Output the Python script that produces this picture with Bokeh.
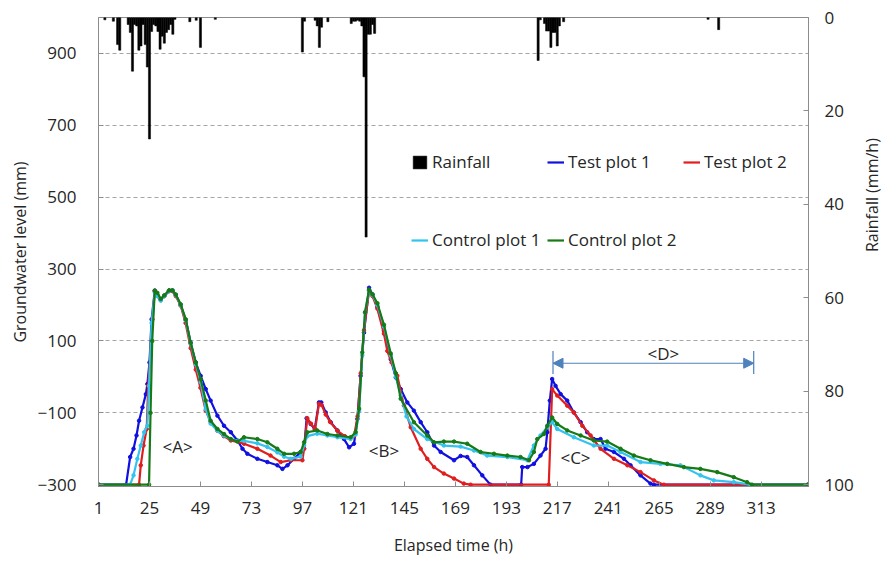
import math
from bokeh.plotting import figure
from bokeh.models import (Range1d, LinearAxis, FixedTicker, Legend, LegendItem,
                          Label, Arrow, NormalHead)
from bokeh.embed import file_html
from bokeh.resources import INLINE

# ---------------- data ----------------
x_ticks = [1, 25, 49, 73, 97, 121, 145, 169, 193, 217, 241, 265, 289, 313]
gw_ticks = [-300, -100, 100, 300, 500, 700, 900]
rain_ticks = [0, 20, 40, 60, 80, 100]

rain_h = [4, 8, 10, 11, 15, 16, 17, 18, 19, 20, 21, 22, 23, 24, 25, 26, 27, 28,
          29, 30, 31, 32, 33, 34, 35, 36, 37, 44, 47, 49, 56,
          97, 98, 103, 104, 105, 106, 109, 120, 121, 122, 123, 124, 125, 126, 127,
          128, 129, 130, 131,
          208, 209, 211, 212, 213, 214, 215, 216, 217, 218, 220, 288, 293]
rain_v = [0.5, 0.8, 5.8, 7.0, 1.5, 3.2, 11.5, 1.5, 1.8, 7.0, 6.1, 1.5, 5.8, 10.6, 26.0, 3.0, 1.5, 1.8,
          3.0, 6.8, 4.0, 5.5, 3.2, 2.6, 1.5, 3.6, 0.4, 0.9, 0.6, 6.4, 0.4,
          7.4, 0.8, 0.6, 1.8, 6.4, 2.1, 0.9, 1.3, 0.8, 0.8, 0.6, 0.8, 1.8, 12.7, 47.0,
          3.6, 3.6, 1.5, 3.4,
          9.2, 0.5, 1.3, 2.9, 2.9, 6.4, 3.2, 3.2, 6.1, 1.8, 0.9, 0.4, 2.6]

test1_h = [1, 14, 15.9, 17.5, 18.9, 20.1, 21.7, 23.3, 24, 25, 26, 27.5, 28.7, 30.3, 31.9, 34.3,
           35.8, 37.4, 39.7, 42.1, 44.4, 46.8, 49.1, 51.5, 53.8, 57, 60.1, 63.3, 66.4, 68.8,
           71.1, 75.8, 80.5, 85.2, 87.6, 90, 93.1, 96.2, 97.8, 99, 100.9, 102.8, 104.8, 105.9,
           108, 110.3, 113.5, 116.6, 119, 121.3, 122.9, 124.4, 126, 128.4, 130, 132.3, 135.4,
           138.6, 141, 143.3, 146.4, 149.5, 152.7, 155.8, 159, 162.1, 168.4, 171.5, 174.6,
           177.8, 181.7, 185.6, 200, 200.5, 203, 206, 209.1, 211.5, 212.3, 213.5, 214.6, 216.2,
           218.6, 221.7, 224.8, 228, 231.1, 234.2, 237.4, 239.7, 243.7, 248.4, 251.5, 256.2,
           260.9, 262.5, 335]
test1_v = [-300, -300, -223, -200, -163, -122, -85, -48, -20, 40, 160, 240, 228, 215, 225, 240,
           240, 228, 200, 158, 95, 40, 3, -34, -66, -108, -136, -154, -177, -200,
           -214, -228, -237, -246, -256, -246, -228, -209, -200, -115, -131, -145, -71, -71,
           -99, -126, -149, -173, -196, -186, -117, 3, 123, 248, 229, 195, 128,
           49, -2, -34, -71, -94, -126, -154, -191, -209, -232, -220, -223,
           -246, -274, -300, -300, -251, -251, -242, -219, -200, -154, -66, -6, -25,
           -48, -66, -99, -126, -154, -173, -173, -200, -209, -228, -246, -274,
           -297, -300, -300]

test2_h = [1, 20.1, 20.9, 22.2, 23.7, 24.4, 26.4, 27.5, 28.7, 30.3, 32, 34, 36, 37.4, 39.7, 42,
           44.4, 46.8, 49, 51.5, 53.8, 57, 60, 63.3, 69.5, 75.8, 82, 86.8, 91.5, 97, 97.8,
           99.3, 101, 103, 104.8, 106, 108, 110, 113.5, 117, 119.5, 121.3, 123, 124.5, 126,
           128.4, 130, 132.3, 135.4, 137, 139, 141.7, 144.8, 148, 152.7, 155.8, 159, 163.6,
           168.4, 173, 176.2, 213, 214.6, 217, 221.7, 224.8, 228.8, 232.7, 237.4, 243.7, 250,
           256.2, 262.5, 267.2, 335]
test2_v = [-300, -300, -246, -191, -145, -25, 160, 239, 225, 215, 225, 238, 238, 225, 198, 150,
           80, 20, -30, -94, -125, -150, -165, -177, -186, -200, -219, -237, -232, -232, -200,
           -115, -130, -145, -75, -78, -105, -125, -150, -165, -170, -165, -110, 10, 130,
           240, 225, 190, 120, 72, 40, 3, -80, -140, -200, -228, -251, -269,
           -283, -297, -300, -300, -34, -52, -80, -99, -136, -163, -200, -228, -246,
           -265, -288, -300, -300]

ctrl1_h = [1, 15.9, 17.5, 19.3, 20.9, 22.5, 24, 24.8, 26, 27.5, 28.7, 30.3, 32, 34, 36, 37.4,
           39.7, 42, 44.4, 46.8, 49.1, 51.5, 53.8, 57, 60, 63.3, 66.4, 69.5, 75.8, 80.5, 85.2,
           88.4, 91.5, 96.2, 97.8, 99.3, 104, 108.8, 113.5, 119.7, 122.1, 123.7, 125.2, 126.5,
           128.4, 130, 132.3, 135.4, 138.6, 141, 143.3, 146, 149.5, 155.8, 163.6, 171.5, 177.8,
           184, 193.5, 202.9, 206, 209.1, 212.3, 214.6, 217, 224.8, 234.2, 240.5, 246.8, 256.2,
           265.6, 275, 284.4, 290.7, 300.1, 308, 335]
ctrl1_v = [-300, -300, -274, -228, -191, -154, -136, -25, 150, 235, 225, 212, 225, 238, 240, 228,
           200, 158, 92, 35, -15, -90, -130, -150, -163, -173, -178, -178, -185, -195, -210,
           -222, -228, -222, -190, -165, -158, -163, -168, -173, -160, -95, 60, 180,
           240, 228, 200, 140, 60, 0, -52, -110, -145, -173, -191, -194, -205,
           -219, -223, -232, -191, -163, -140, -126, -145, -168, -191, -191, -209, -237,
           -242, -246, -274, -288, -293, -300, -300]

ctrl2_h = [1, 24.8, 25.5, 26.3, 27.5, 28.7, 30.3, 32, 34.3, 35.8, 37.4, 39.7, 42.1, 44.4, 46.8,
           49.1, 51.5, 53.8, 57, 60.1, 63.3, 66.4, 69.5, 75.8, 80.5, 85.2, 88.4, 93.1, 96.2,
           97.8, 99.3, 104, 108.8, 113.5, 119.7, 122.1, 123.7, 125.2, 126.5, 128.4, 130, 132.3,
           135.4, 138.6, 141, 143.3, 149.5, 155.8, 159, 163.6, 168.4, 174.6, 180.9, 187.2,
           193.5, 199.7, 203.7, 206, 207.6, 210.7, 212.3, 214.6, 217, 221.7, 228, 234.2, 240.5,
           246.8, 253.1, 260.9, 268.8, 276.6, 284.4, 292.3, 300.1, 306.4, 308.7, 335]
ctrl2_v = [-300, -300, -100, 100, 240, 234, 217, 227, 241, 241, 229, 202, 160, 95, 40,
           -6, -66, -122, -145, -159, -173, -180, -168, -173, -182, -200, -214, -214, -209,
           -182, -154, -149, -159, -163, -168, -154, -89, 68, 180, 243, 230, 205,
           145, 65, 10, -61, -126, -163, -182, -180, -180, -186, -209, -214,
           -219, -223, -232, -209, -173, -159, -136, -113, -131, -149, -163, -177, -180,
           -200, -219, -232, -242, -251, -256, -265, -279, -293, -300, -300]

# ---------------- figure ----------------
FONT = "Open Sans"
TXT = "#262626"
GRAY = "#8c8c8c"

GW_START, GW_END = -305, 1000          # tiny pad so the -300 lines are fully visible
RAIN_AT_START = (1000 - GW_START) / 13.0  # rainfall axis aligned: 0 <-> 1000, 100 <-> -300

p = figure(width=896, height=560, output_backend="svg", toolbar_location=None,
           x_range=Range1d(1, 335.3), y_range=Range1d(GW_START, GW_END),
           min_border_left=98, min_border_right=88, min_border_top=17, min_border_bottom=74)
p.extra_y_ranges = {"rain": Range1d(RAIN_AT_START, 0)}
p.outline_line_color = GRAY
p.xgrid.visible = False
p.ygrid.ticker = FixedTicker(ticks=[t for t in gw_ticks if t > -300])
p.ygrid.grid_line_color = "#a6a6a6"
p.ygrid.grid_line_dash = "4 3"

p.xaxis.ticker = FixedTicker(ticks=x_ticks)
p.yaxis.ticker = FixedTicker(ticks=gw_ticks)
p.xaxis.axis_label = "Elapsed time (h)"
p.yaxis.axis_label = "Groundwater level (mm)"

raxis = LinearAxis(y_range_name="rain", ticker=FixedTicker(ticks=rain_ticks),
                   axis_label="Rainfall (mm/h)")
p.add_layout(raxis, "right")

for ax in [p.xaxis[0], p.yaxis[0], raxis]:
    ax.axis_line_color = GRAY
    ax.major_tick_line_color = GRAY
    ax.major_tick_in = 5
    ax.major_tick_out = 0
    ax.minor_tick_line_color = None
    ax.major_label_text_font = FONT
    ax.major_label_text_font_size = "17px"
    ax.major_label_text_color = TXT
    ax.axis_label_text_font = FONT
    ax.axis_label_text_font_size = "16px"
    ax.axis_label_text_font_style = "normal"
    ax.axis_label_text_color = TXT

p.yaxis.major_label_standoff = 22
p.yaxis.axis_label_standoff = 4
raxis.major_label_standoff = 16
raxis.axis_label_standoff = 15
p.xaxis.major_label_standoff = 15
p.xaxis.axis_label_standoff = 17
try:
    raxis.axis_label_orientation = math.pi / 2
except Exception:
    pass

# rainfall bars hanging from the top
rain_r = p.vbar(x=rain_h, width=1, top=0, bottom=rain_v, y_range_name="rain",
                fill_color="black", line_color="black", line_width=0.5)

series = [
    ("Test plot 1", test1_h, test1_v, "#1010e0"),
    ("Test plot 2", test2_h, test2_v, "#e01e1e"),
    ("Control plot 1", ctrl1_h, ctrl1_v, "#33c3ee"),
    ("Control plot 2", ctrl2_h, ctrl2_v, "#167a16"),
]
rend = {}
for name, hx, vy, col in series:
    l = p.line(hx, vy, line_color=col, line_width=2.2)
    s = p.scatter(hx, vy, size=3.5, color=col)
    rend[name] = l

def make_legend(items, loc):
    lg = Legend(items=items, orientation="horizontal", location=loc,
                label_width=115, spacing=0, glyph_width=17, glyph_height=16,
                label_standoff=4, padding=0, margin=0,
                border_line_alpha=0, background_fill_alpha=0,
                label_text_font=FONT, label_text_font_size="17px",
                label_text_color=TXT)
    p.add_layout(lg)
    return lg

make_legend([LegendItem(label="Rainfall", renderers=[rain_r]),
             LegendItem(label="Test plot 1", renderers=[rend["Test plot 1"]]),
             LegendItem(label="Test plot 2", renderers=[rend["Test plot 2"]])], (313, 313))
make_legend([LegendItem(label="Control plot 1", renderers=[rend["Control plot 1"]]),
             LegendItem(label="Control plot 2", renderers=[rend["Control plot 2"]])], (313, 235))

# annotations
for tx, lx, ly in [("<A>", 38.2, -195), ("<B>", 135.4, -206), ("<C>", 225.6, -223), ("<D>", 267, 65)]:
    p.add_layout(Label(x=lx, y=ly, text=tx, text_align="center", text_baseline="middle",
                       text_font=FONT, text_font_size="17px", text_color=TXT))

ARROW = "#4f81bd"
p.add_layout(Arrow(x_start=215, y_start=38, x_end=309.5, y_end=38,
                   line_color=ARROW, line_width=1.2,
                   start=NormalHead(size=10, fill_color=ARROW, line_color=ARROW),
                   end=NormalHead(size=10, fill_color=ARROW, line_color=ARROW)))
p.segment(x0=[215, 309.5], y0=[8, 8], x1=[215, 309.5], y1=[72, 72],
          line_color=ARROW, line_width=1.2)

open("out.html", "w").write(file_html(p, INLINE))
